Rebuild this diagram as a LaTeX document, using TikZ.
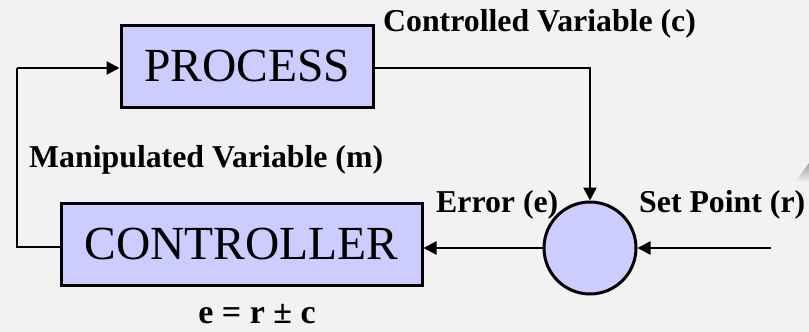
\documentclass[tikz,border=0pt]{standalone}
\usepackage{fontspec}
\setmainfont{Liberation Serif}
\usetikzlibrary{arrows.meta,calc}
\definecolor{bgcol}{HTML}{F2F2F2}
\definecolor{blockfill}{HTML}{CCCCFF}
\tikzset{
  block/.style={draw=black, line width=3pt, fill=blockfill, inner sep=0pt,
    font=\fontsize{47.5}{50}\selectfont},
  junction/.style={circle, draw=black, line width=3pt, fill=blockfill,
    minimum size=92pt, inner sep=0pt},
  conn/.style={draw=black, line width=2.5pt,
    -{Triangle[length=13pt,width=13pt]}},
  wire/.style={draw=black, line width=2.5pt},
  lbl/.style={font=\bfseries\fontsize{31.8}{33}\selectfont, inner sep=0pt, anchor=base west}
}
\begin{document}
\begin{tikzpicture}[x=1pt,y=-1pt]
  % canvas
  \fill[bgcol] (0,0) rectangle (809,332);
  \useasboundingbox (0,0) rectangle (809,332);

  % corner decoration
  \shade[top color=gray!75, bottom color=bgcol] (795,182) -- (809,163) -- (809,182) -- cycle;

  % blocks
  \node[block, minimum width=252pt, minimum height=82pt] (proc) at (247,66) {PROCESS};
  \node[block, minimum width=361pt, minimum height=82pt] (ctrl) at (241.5,244) {CONTROLLER};
  \node[junction] (sum) at (590,248) {};

  % routing points
  \coordinate (lc) at (17,247);
  \coordinate (lt) at (17,68);
  \coordinate (sp) at (771,248);

  % feedback path: controller -> process
  \draw[wire] (ctrl.west |- lc) -- (lc) -- (lt);
  \draw[conn] (lt) -- (proc.west |- lt);
  % process output down to the comparator
  \draw[conn] (proc.east |- lt) -| (sum.north);
  % error into controller
  \draw[conn] (sum.west) -- (ctrl.east |- sum.west);
  % set point into comparator
  \draw[conn] (sp) -- (sum.east);

  % labels
  \node[lbl] (lc1) at (383,31) {Controlled Variable (c)};
  \node[lbl] (lm1) at (29,167) {Manipulated Variable (m)};
  \node[lbl] (le1) at (436,212) {Error (e)};
  \node[lbl] (lr1) at (639,212) {Set Point (r)};
  \node[font=\bfseries\fontsize{34}{36}\selectfont, inner sep=0pt, anchor=base] (eq) at (257,323) {e = r ± c};
\end{tikzpicture}
\end{document}
